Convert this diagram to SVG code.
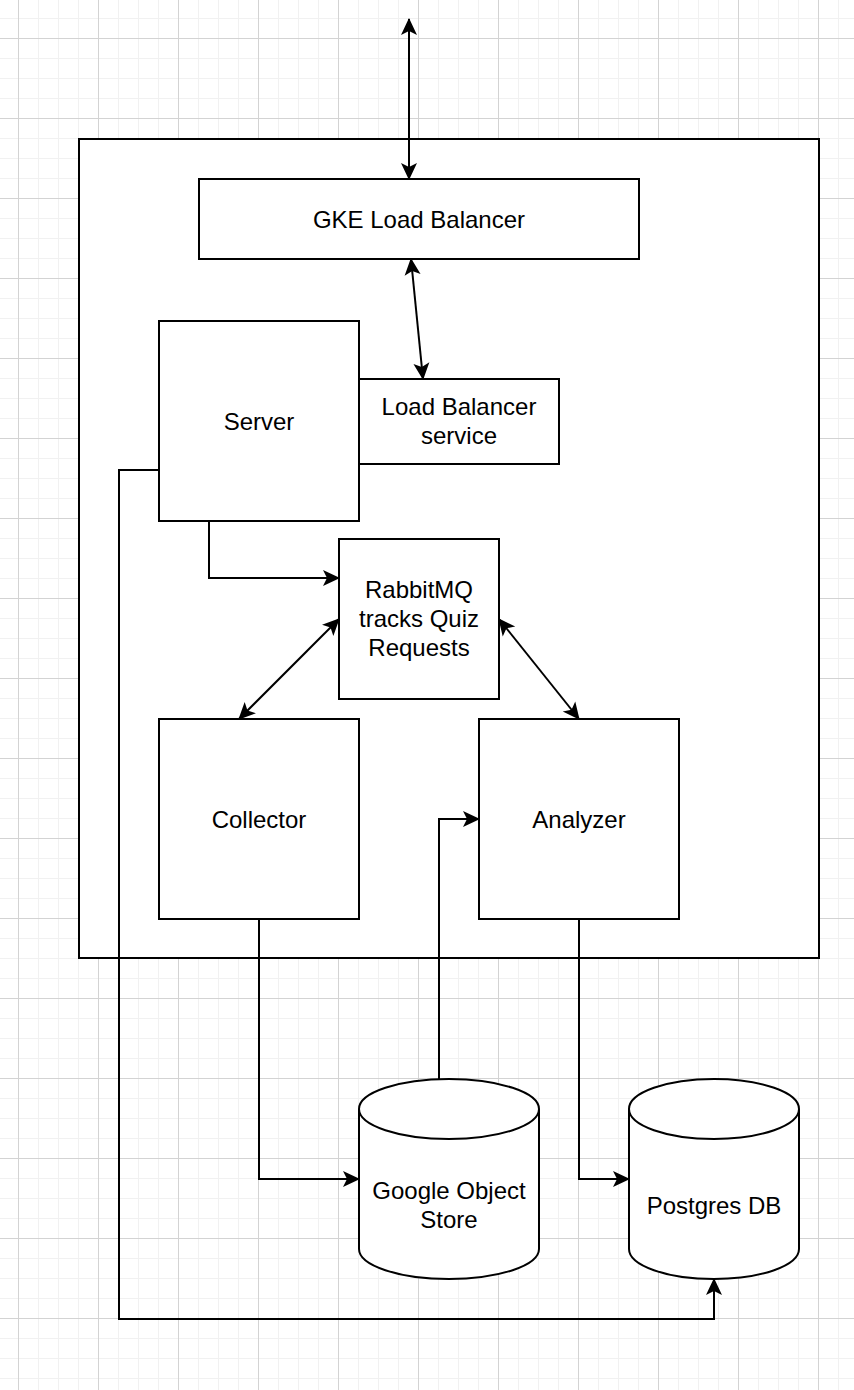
<svg xmlns="http://www.w3.org/2000/svg" width="854" height="1390" viewBox="0 0 854 1390">
  <style>
    .box { fill: #ffffff; stroke: #000000; stroke-width: 2; }
    .edge { fill: none; stroke: #000000; stroke-width: 2; }
    .lbl { font-family: "Liberation Sans", Arial, Helvetica, sans-serif; font-size: 24px; fill: #000000; text-anchor: middle; }
  </style>
  <defs>
    <pattern id="grid" patternUnits="userSpaceOnUse" x="18" y="38" width="80" height="80">
      <path d="M20.5,0V80M40.5,0V80M60.5,0V80M0,20.5H80M0,40.5H80M0,60.5H80" fill="none" stroke="#f1f1f1" stroke-width="1"/>
      <path d="M0.5,0V80M0,0.5H80" fill="none" stroke="#d3d3d3" stroke-width="1"/>
    </pattern>
    <marker id="arr" markerUnits="userSpaceOnUse" viewBox="0 0 20 20" markerWidth="20" markerHeight="20" refX="17" refY="10" orient="auto-start-reverse">
      <path d="M1,2 L18,10 L1,18 L5,10 Z" fill="#000000"/>
    </marker>
  </defs>

  <rect width="854" height="1390" fill="#ffffff"/>
  <rect width="854" height="1390" fill="url(#grid)"/>

  <g id="container">
    <rect class="box" x="79" y="139" width="740" height="819"/>
  </g>

  <g id="gke-load-balancer">
    <rect class="box" x="199" y="179" width="440" height="80"/>
    <text class="lbl" x="419" y="227.5">GKE Load Balancer</text>
  </g>

  <g id="server">
    <rect class="box" x="159" y="321" width="200" height="200"/>
    <text class="lbl" x="259" y="429.5">Server</text>
  </g>

  <g id="load-balancer-service">
    <rect class="box" x="359" y="379" width="200" height="85"/>
    <text class="lbl" x="459" y="414.5">Load Balancer</text>
    <text class="lbl" x="459" y="443.5">service</text>
  </g>

  <g id="rabbitmq">
    <rect class="box" x="339" y="539" width="160" height="160"/>
    <text class="lbl" x="419" y="597.5">RabbitMQ</text>
    <text class="lbl" x="419" y="626.5">tracks Quiz</text>
    <text class="lbl" x="419" y="655.5">Requests</text>
  </g>

  <g id="collector">
    <rect class="box" x="159" y="719" width="200" height="200"/>
    <text class="lbl" x="259" y="827.5">Collector</text>
  </g>

  <g id="analyzer">
    <rect class="box" x="479" y="719" width="200" height="200"/>
    <text class="lbl" x="579" y="827.5">Analyzer</text>
  </g>

  <g id="google-object-store">
    <path class="box" d="M359,1109 A90,30 0 0 1 539,1109 L539,1249 A90,30 0 0 1 359,1249 Z"/>
    <path class="edge" d="M359,1109 A90,30 0 0 0 539,1109"/>
    <text class="lbl" x="449" y="1198.5">Google Object</text>
    <text class="lbl" x="449" y="1227.5">Store</text>
  </g>

  <g id="postgres-db">
    <path class="box" d="M629,1109 A85,30 0 0 1 799,1109 L799,1249 A85,30 0 0 1 629,1249 Z"/>
    <path class="edge" d="M629,1109 A85,30 0 0 0 799,1109"/>
    <text class="lbl" x="714" y="1213.5">Postgres DB</text>
  </g>

  <g id="connectors">
    <path class="edge" d="M409,19 L409,179" marker-start="url(#arr)" marker-end="url(#arr)"/>
    <path class="edge" d="M411,259 L423,379" marker-start="url(#arr)" marker-end="url(#arr)"/>
    <path class="edge" d="M209,521 L209,578 L339,578" marker-end="url(#arr)"/>
    <path class="edge" d="M339,619 L239,719" marker-start="url(#arr)" marker-end="url(#arr)"/>
    <path class="edge" d="M499,619 L579,719" marker-start="url(#arr)" marker-end="url(#arr)"/>
    <path class="edge" d="M259,919 L259,1179 L359,1179" marker-end="url(#arr)"/>
    <path class="edge" d="M439,1079 L439,819 L479,819" marker-end="url(#arr)"/>
    <path class="edge" d="M579,919 L579,1179 L629,1179" marker-end="url(#arr)"/>
    <path class="edge" d="M159,470 L119,470 L119,1319 L714,1319 L714,1279" marker-end="url(#arr)"/>
  </g>
</svg>
